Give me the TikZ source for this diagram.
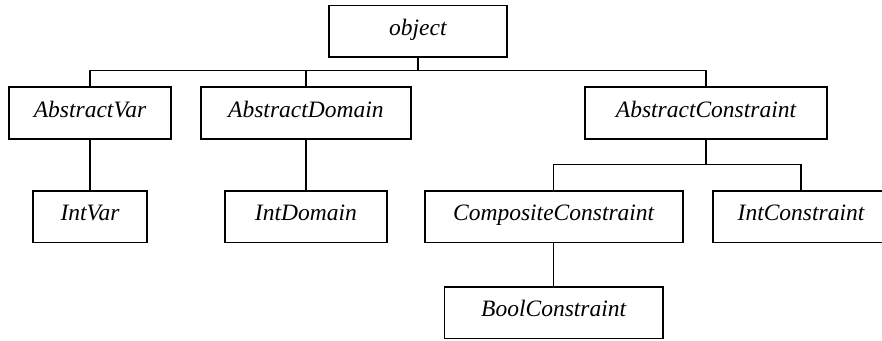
\documentclass[tikz,border=0pt]{standalone}
\usepackage{fontspec}
\setmainfont{Liberation Serif}
\usepackage{tikz}
\usetikzlibrary{calc}

\tikzset{
  classbox/.style={draw, line width=1.7pt, inner sep=0pt, minimum height=51.5pt,
    text height=15.5pt, text depth=7.3pt, font=\fontsize{23.5}{28}\selectfont\itshape},
  link/.style={line width=1.4pt}
}

\begin{document}
\begin{tikzpicture}[x=1pt, y=-1pt]
  \useasboundingbox (0,0) rectangle (882,340);

  % class hierarchy boxes
  \node[classbox, minimum width=177.7pt] (obj)  at (417.9,31.2)  {object};
  \node[classbox, minimum width=161.4pt] (avar) at (90,113)      {AbstractVar};
  \node[classbox, minimum width=209.8pt] (adom) at (305.9,113)   {AbstractDomain};
  \node[classbox, minimum width=242pt]   (acon) at (706,113)     {AbstractConstraint};
  \node[classbox, minimum width=114pt]   (ivar) at (90,216.8)    {IntVar};
  \node[classbox, minimum width=161.7pt] (idom) at (305.9,216.8) {IntDomain};
  \node[classbox, minimum width=258pt]   (comp) at (553.7,216.8) {CompositeConstraint};
  \node[classbox, minimum width=176pt]   (icon) at (801,216.8)   {IntConstraint};
  \node[classbox, minimum width=218.3pt] (bool) at (553.7,312.6) {BoolConstraint};

  % bus lines
  \coordinate (bus1) at (0,70.7);
  \coordinate (bus2) at (0,164.5);

  \draw[link] (obj.south) -- (obj.south |- bus1);
  \draw[link] (avar.north) -- (avar.north |- bus1) -- (acon.north |- bus1) -- (acon.north);
  \draw[link] (adom.north) -- (adom.north |- bus1);

  \draw[link] (avar.south) -- (ivar.north);
  \draw[link] (adom.south) -- (idom.north);

  \draw[link] (acon.south) -- (acon.south |- bus2);
  \draw[link] (comp.north) -- (comp.north |- bus2) -- (icon.north |- bus2) -- (icon.north);

  \draw[link] (comp.south) -- (bool.north);
\end{tikzpicture}
\end{document}
